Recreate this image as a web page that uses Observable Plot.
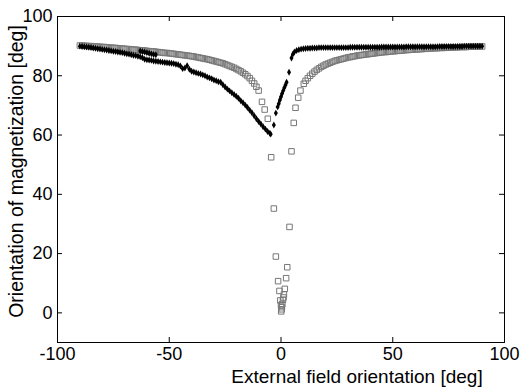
<!DOCTYPE html>
<html>
<head>
<meta charset="utf-8">
<script src="https://cdn.jsdelivr.net/npm/d3@7"></script>
<script src="https://cdn.jsdelivr.net/npm/@observablehq/plot@0.6"></script>
<style>
  html, body { margin: 0; padding: 0; background: white; }
  svg { display: block; }
</style>
</head>
<body>
<div id="chart"></div>
<script>
// ---- tick labels / axis titles ----
const xTicks = [-100, -50, 0, 50, 100];
const yTicks = [0, 20, 40, 60, 80, 100];
const xLabel = "External field orientation [deg]";
const yLabel = "Orientation of magnetization [deg]";

// ---- open squares series ----
const sqX = [
  -90,-89,-88,-87,-86,-85,-84,-83,-82,-81,-80,-79,-78,-77,-76,-75,-74,-73,-72,-71,
  -70,-69,-68,-67,-66,-65,-64,-63,-62,-61,-60,-59,-58,-57,-56,-55,-54,-53,-52,-51,
  -50,-49,-48,-47,-46,-45,-44,-43,-42,-41,-40,-39,-38,-37,-36,-35,-34,-33,-32,-31,
  -30,-29,-28,-27,-26,-25,-24,-23,-22,-21,-20,-19,-18,-17,-16,-15,-14,-13,-12,-11,-10,
  -8.5,-7.3,-5.9,-4.4,-3.2,-2.3,-1.3,-0.7,-0.3,0.0,0.1,0.3,0.4,0.6,0.9,1.1,1.3,1.7,2.3,2.8,
  3.8,4.7,5.7,6.5,7.7,8.7,10.2,
  11,12,13,14,15,16,17,18,19,20,21,22,23,24,25,26,27,28,29,30,
  31,32,33,34,35,36,37,38,39,40,41,42,43,44,45,46,47,48,49,50,
  51,52,53,54,55,56,57,58,59,60,61,62,63,64,65,66,67,68,69,70,
  71,72,73,74,75,76,77,78,79,80,81,82,83,84,85,86,87,88,89,90
];
const sqY = [
  90.2,90.2,90.1,90.1,90.0,90.0,89.9,89.9,89.8,89.8,89.7,89.7,89.6,89.5,89.5,89.4,89.4,89.3,89.2,89.2,
  89.1,89.0,89.0,88.9,88.8,88.8,88.7,88.6,88.6,88.5,88.4,88.3,88.2,88.2,88.1,88.0,87.9,87.8,87.7,87.7,
  87.6,87.5,87.4,87.3,87.2,87.1,87.0,86.9,86.8,86.7,86.6,86.5,86.3,86.2,86.0,85.9,85.7,85.6,85.4,85.2,
  85.0,84.8,84.6,84.4,84.2,83.9,83.6,83.3,83.0,82.7,82.3,81.9,81.5,81.0,80.5,79.9,79.2,78.3,77.4,76.3,75.0,
  71.2,68.6,65.5,52.5,35.2,19.0,10.7,7.4,4.2,2.6,0.5,1.2,1.9,3.0,4.4,5.2,6.2,8.1,11.7,15.4,
  29.0,54.5,64.1,69.2,72.6,75.0,77.3,
  78.3,79.2,80.0,80.7,81.4,82.0,82.5,83.0,83.4,83.8,84.1,84.4,84.7,85.0,85.2,85.4,85.6,85.8,86.0,86.2,
  86.3,86.5,86.6,86.8,86.9,87.0,87.1,87.2,87.3,87.4,87.5,87.6,87.7,87.8,87.9,88.0,88.0,88.1,88.2,88.3,
  88.3,88.4,88.5,88.5,88.6,88.7,88.7,88.8,88.8,88.9,88.9,89.0,89.0,89.1,89.1,89.2,89.2,89.3,89.3,89.3,
  89.4,89.4,89.4,89.5,89.5,89.5,89.6,89.6,89.6,89.7,89.7,89.7,89.7,89.8,89.8,89.8,89.8,89.9,89.9,89.9
];

// ---- filled diamonds series ----
const diaX = [
  -90,-89,-88,-87,-86,-85,-84,-83,-82,-81,-80,-79,-78,-77,-76,-75,-74,-73,-72,-71,
  -70,-69,-68,-67,-66,-65,-64,-63,-62,-61,-60,-59,-58,-57,-56,-55,-54,-53,-52,-51,
  -50,-49,-48,-47,-46,-45,-44,-43,-42,-41,-40,-39,-38,-37,-36,-35,-34,-33,-32,-31,
  -30,-29,-28,-27,-26,-25,-24,-23,-22,-21,-20,-19,-18,-17,-16,-15,-14,-13,-12,-11,
  -10,-9,-8,-7,-6,-5,
  -63,-62,-61,-60,-59,-58,-57,-56,
  -4.6,-3.2,-2.3,-1.5,-1.0,-0.5,0.0,0.5,1.0,1.5,2.0,2.5,3.6,4.7,5.3,6.0,
  7,8,9,10,11,12,13,14,15,16,17,18,19,20,21,22,23,24,25,26,27,28,29,30,
  31,32,33,34,35,36,37,38,39,40,41,42,43,44,45,46,47,48,49,50,
  51,52,53,54,55,56,57,58,59,60,61,62,63,64,65,66,67,68,69,70,
  71,72,73,74,75,76,77,78,79,80,81,82,83,84,85,86,87,88,89,90
];
const diaY = [
  90.0,89.9,89.8,89.7,89.6,89.5,89.4,89.3,89.1,89.0,88.9,88.8,88.7,88.5,88.4,88.3,88.2,88.0,87.9,87.8,
  87.6,87.4,87.3,87.1,86.9,86.8,86.6,86.4,86.1,85.6,85.4,85.3,85.2,85.0,84.9,84.8,84.7,84.6,84.5,84.4,
  84.3,84.2,84.1,83.9,83.7,83.3,82.4,82.6,83.4,82.2,81.5,81.3,81.0,80.8,80.6,80.3,80.0,79.6,79.3,79.0,
  78.6,78.3,78.0,77.8,77.0,76.2,75.5,74.9,74.3,73.7,73.1,72.4,71.6,70.9,70.1,69.3,68.4,67.5,66.5,65.5,
  64.6,63.7,62.8,62.0,61.2,60.6,
  88.4,88.2,88.0,87.8,87.6,87.4,87.2,87.1,
  60.3,63.4,67.4,69.5,70.6,71.8,72.9,74.0,75.0,76.0,76.9,77.8,81.2,86.0,87.3,88.0,
  88.5,88.8,89.0,89.1,89.2,89.3,89.3,89.4,89.4,89.4,89.5,89.5,89.5,89.5,89.5,89.5,89.5,89.5,89.5,89.5,89.5,89.5,89.5,89.5,
  89.6,89.6,89.6,89.6,89.6,89.6,89.6,89.6,89.6,89.6,89.6,89.6,89.6,89.6,89.7,89.7,89.7,89.7,89.7,89.7,
  89.7,89.7,89.7,89.7,89.7,89.8,89.8,89.8,89.8,89.8,89.8,89.8,89.8,89.8,89.8,89.8,89.8,89.8,89.8,89.8,
  89.9,89.9,89.9,89.9,89.9,89.9,89.9,89.9,89.9,89.9,89.9,90.0,90.0,90.0,90.0,90.0,90.0,90.0,90.0,90.0
];

const squares = sqX.map((x, i) => ({x, y: sqY[i]}));
const diamonds = diaX.map((x, i) => ({x, y: diaY[i]}));

const W = 526, H = 387, mL = 57, mR = 22, mT = 16, mB = 45, tick = 5;
const innerW = W - mL - mR, innerH = H - mT - mB;
const fmt = d => String(d);

const chart = Plot.plot({
  width: W,
  height: H,
  marginLeft: mL,
  marginRight: mR,
  marginTop: mT,
  marginBottom: mB,
  style: {fontSize: "18px", fontFamily: "'Liberation Sans', Arial, Helvetica, sans-serif", color: "black", background: "white"},
  x: {domain: [-100, 100]},
  y: {domain: [-10, 100]},
  marks: [
    Plot.dot(squares, {x: "x", y: "y", symbol: "square", r: 3.1, stroke: "#777777", strokeWidth: 1, fill: "white", fillOpacity: 0}),
    Plot.dot(diamonds, {x: "x", y: "y", symbol: "diamond", r: 2.1, fill: "black", stroke: "none"}),
    Plot.tickX(xTicks, {x: d => d, insetTop: innerH - tick, stroke: "black"}),
    Plot.tickX(xTicks, {x: d => d, insetBottom: innerH - tick, stroke: "black"}),
    Plot.tickY(yTicks, {y: d => d, insetRight: innerW - tick, stroke: "black"}),
    Plot.tickY(yTicks, {y: d => d, insetLeft: innerW - tick, stroke: "black"}),
    Plot.frame({stroke: "black"}),
    Plot.axisX(xTicks, {tickSize: 0, tickPadding: 5, label: null, fontSize: 18, tickFormat: fmt}),
    Plot.axisY(yTicks, {tickSize: 0, tickPadding: 5, label: null, fontSize: 18, tickFormat: fmt}),
    Plot.text([xLabel], {text: d => d, frameAnchor: "bottom", textAnchor: "middle", lineAnchor: "middle", dx: 76, dy: 34, fontSize: 19, fill: "black"}),
    Plot.text([yLabel], {text: d => d, frameAnchor: "left", textAnchor: "middle", lineAnchor: "middle", rotate: -90, dx: -41, dy: -8, fontSize: 19.5, fill: "black"})
  ]
});
document.getElementById("chart").appendChild(chart);
</script>
</body>
</html>
